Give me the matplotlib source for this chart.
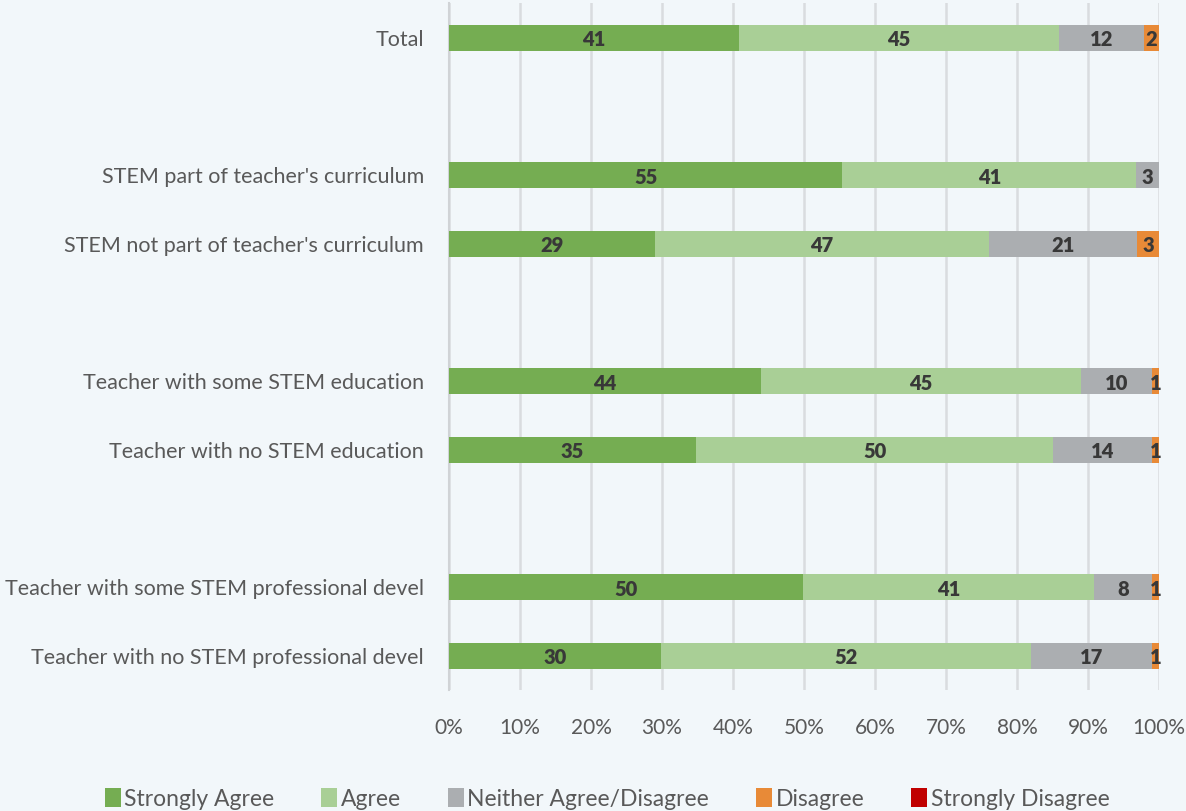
import numpy as np
import matplotlib.pyplot as plt

categories = ["Total",
              "STEM part of teacher's curriculum",
              "STEM not part of teacher's curriculum",
              "Teacher with some STEM education",
              "Teacher with no STEM education",
              "Teacher with some STEM professional devel",
              "Teacher with no STEM professional devel"]
# rows with blank spacer rows between groups
row_pos = [0, 2, 3, 5, 6, 8, 9]

strongly_agree = [40.8, 55.4, 29.0, 43.9, 34.8, 49.9, 29.9]
agree = [45.1, 41.4, 47.1, 45.1, 50.3, 40.9, 52.1]
neither = [12.0, 3.2, 20.8, 10.0, 13.9, 8.2, 17.0]
disagree = [2.1, 0.0, 3.1, 1.0, 1.0, 1.0, 1.0]
strongly_disagree = [0, 0, 0, 0, 0, 0, 0]

series = ["Strongly Agree", "Agree", "Neither Agree/Disagree", "Disagree", "Strongly Disagree"]
colors = ["#75ad52", "#a9cf96", "#abaeb1", "#e88a37", "#c00000"]
values = [strongly_agree, agree, neither, disagree, strongly_disagree]

bg = "#f2f7fa"
plt.rcParams['font.family'] = ['Lato', 'DejaVu Sans']

fig = plt.figure(figsize=(11.86, 8.11), dpi=100, facecolor=bg)
ax = fig.add_axes([0.3786, 0.149, 0.5986, 0.847], facecolor=bg)

left = np.zeros(len(categories))
for name, vals, col in zip(series, values, colors):
    vals = np.array(vals, dtype=float)
    ax.barh(row_pos, vals, left=left, height=0.38, color=col, label=name, zorder=3)
    for y, l, v in zip(row_pos, left, vals):
        if v > 0:
            ax.text(l + v / 2, y + 0.03, f"{v:.0f}", ha='center', va='center',
                    fontsize=14.5, fontweight='heavy', color='#383838', zorder=4)
    left += vals

ax.set_xlim(0, 100)
ax.set_ylim(9.5, -0.5)
ax.set_xticks(np.arange(0, 101, 10))
ax.set_xticklabels([f"{t}%" for t in range(0, 101, 10)])
ax.set_yticks(row_pos)
ax.set_yticklabels(categories, fontsize=15.5)
ax.grid(axis='x', color='#d9dcdf', linewidth=1.8, zorder=0)
for s in ['top', 'right', 'bottom']:
    ax.spines[s].set_visible(False)
ax.spines['left'].set_color('#d0d3d6')
ax.spines['left'].set_linewidth(1.5)
ax.tick_params(axis='both', length=0, labelsize=15, colors='#595959')
ax.tick_params(axis='y', labelsize=15.5)
ax.tick_params(axis='x', pad=20)
ax.tick_params(axis='y', pad=18)

handles, labels = ax.get_legend_handles_labels()
fig.legend(handles, labels, loc='center', bbox_to_anchor=(0.512, 0.015), ncol=5,
           frameon=False, fontsize=16.5, handlelength=0.7, handleheight=0.9,
           handletextpad=0.15, columnspacing=2.05, labelcolor='#595959')

fig.savefig("out.png", dpi=100, facecolor=bg)
